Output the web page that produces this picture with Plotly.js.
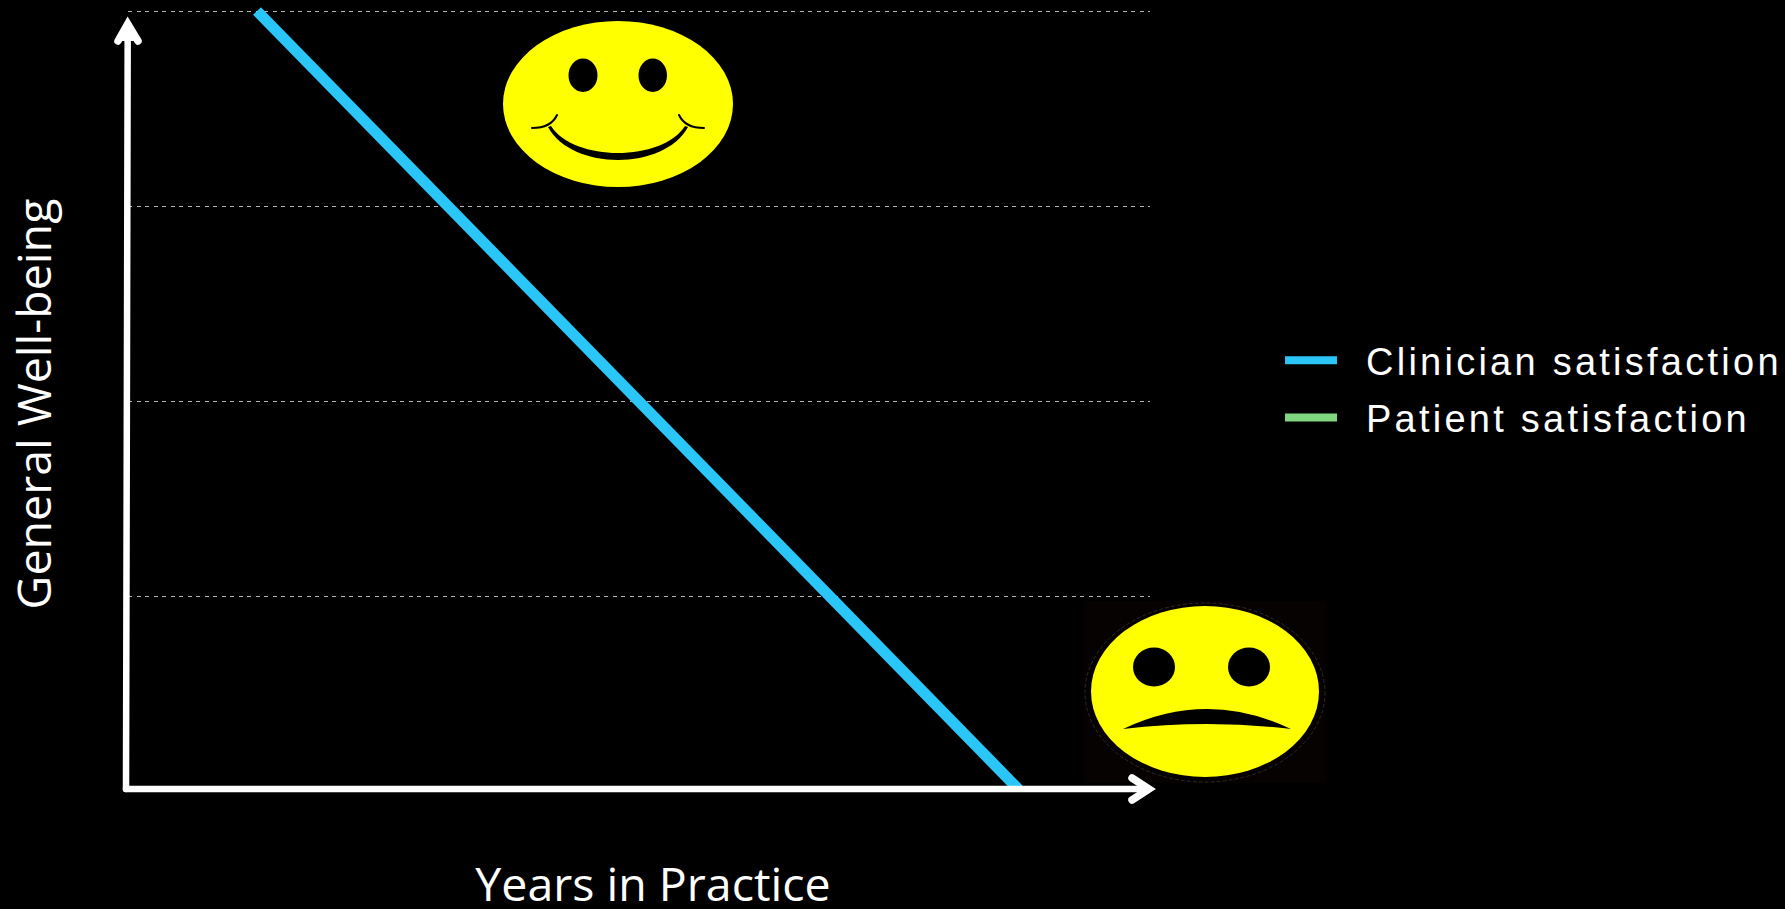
<!DOCTYPE html>
<html>
<head>
<meta charset="utf-8">
<script src="https://cdn.plot.ly/plotly-3.0.0.min.js"></script>
<style>
html,body{margin:0;padding:0;background:#000;overflow:hidden}
#chart{width:1785px;height:909px}
.legendtext{letter-spacing:3.25px;transform:translateX(24px)}
.legend .scrollbox{clip-path:none !important}
.legendlines path{stroke-width:8px !important}
.g-xtitle{transform:translateX(14px)}
.g-ytitle{transform:translateY(5px)}
.shapelayer path{stroke-linecap:round}
</style>
</head>
<body>
<div id="chart"></div>
<script>
// ---- values ----
const clinicianYears = [1.262, 8.73];
const clinicianWellbeing = [4, 0];
const patientYears = [null];
const patientWellbeing = [null];
const seriesNames = ['Clinician satisfaction', 'Patient satisfaction'];
const wellbeingTicks = [1, 2, 3, 4];
const xTitle = 'Years in Practice';
const yTitle = 'General Well-being';
const clinicianColor = '#29C6F7';
const patientColor = '#7FD87F';

// ---- page geometry ----
const W = 1785, H = 909;
const L = 128, R = 1150, T = 7, B = 791;
const yMax = (B - T) / 195;
const px = x => (x - L) / (R - L);
const py = y => (B - y) / (B - T);
const P = (x, y) => px(x).toFixed(5) + ',' + py(y).toFixed(5);

function ellipse(x0, x1, y0, y1, fill, line) {
  return {type:'circle', xref:'paper', yref:'paper', layer:'above',
    x0:px(x0), x1:px(x1), y0:py(y0), y1:py(y1), fillcolor:fill,
    line: line || {width:0}};
}
function path(d, opts) {
  return Object.assign({type:'path', xref:'paper', yref:'paper', layer:'above', path:d,
    line:{width:0}}, opts || {});
}

const white = {color:'#ffffff', width:6.5};
const head = {color:'#ffffff', width:7.5};
const none = 'rgba(0,0,0,0)';
const shapes = [
  // sad face backing picture
  {type:'rect', xref:'paper', yref:'paper', layer:'above', x0:px(1084), x1:px(1326), y0:py(783), y1:py(601),
   fillcolor:'#060202', line:{width:0}},
  ellipse(1085, 1325, 603, 782, none, {color:'#2a2a22', width:1, dash:'dot'}),
  ellipse(1091, 1319, 606, 777, '#FFFF00'),
  ellipse(1133, 1175, 647.5, 686.5, '#000000'),
  ellipse(1228, 1270, 647.5, 686.5, '#000000'),
  path(`M${P(1123,729)} Q${P(1207,689)} ${P(1291,729)} Q${P(1207,719)} ${P(1123,729)} Z`, {fillcolor:'#000000'}),
  // happy face
  ellipse(503, 733, 21, 187, '#FFFF00'),
  ellipse(568.5, 597.5, 58.5, 92, '#000000'),
  ellipse(638.5, 667, 58.5, 92, '#000000'),
  path(`M${P(548,127)} C${P(572,171)} ${P(664,171)} ${P(688,127)} L${P(685,126)} C${P(662,162)} ${P(574,162)} ${P(551,126)} Z`, {fillcolor:'#000000'}),
  path(`M${P(532,128)} Q${P(551,128)} ${P(557,115)}`, {line:{color:'#000000', width:2}, fillcolor:none}),
  path(`M${P(704,128)} Q${P(685,128)} ${P(679,115)}`, {line:{color:'#000000', width:2}, fillcolor:none}),
  // axis arrows
  path(`M${P(126,789)} L${P(127.7,28)}`, {line:white}),
  path(`M${P(118,41)} L${P(127.7,24)} L${P(138,41)}`, {line:head, fillcolor:'#ffffff'}),
  path(`M${P(126,789)} L${P(1146,789)}`, {line:white}),
  path(`M${P(1132,778)} L${P(1149,789)} L${P(1132,800)}`, {line:head, fillcolor:none})
];

const traces = [
  {x:clinicianYears, y:clinicianWellbeing, name:seriesNames[0], type:'scatter', mode:'lines',
   line:{color:clinicianColor, width:11}, cliponaxis:false, legendgroup:'a', hoverinfo:'skip'},
  {x:patientYears, y:patientWellbeing, name:seriesNames[1], type:'scatter', mode:'lines',
   line:{color:patientColor, width:11}, legendgroup:'b', showlegend:true, hoverinfo:'skip'}
];

const titleFont = {family:'"Open Sans", sans-serif', size:46.5, color:'#ffffff'};

const layout = {
  width:W, height:H,
  paper_bgcolor:'#000000', plot_bgcolor:'#000000',
  margin:{l:L, r:W-R, t:T, b:H-B, pad:0},
  showlegend:true,
  legend:{x:px(1280), xanchor:'left', y:py(389), yanchor:'middle', orientation:'v',
    itemwidth:52, traceorder:'grouped', tracegroupgap:5, bgcolor:none, borderwidth:0,
    font:{family:'"Liberation Sans", Arial, sans-serif', size:38, color:'#ffffff'}},
  xaxis:{range:[0,10], showgrid:false, zeroline:false, showline:false, showticklabels:false, ticks:'',
    title:{text:xTitle, font:titleFont, standoff:77}, automargin:false},
  yaxis:{range:[0,yMax], tickvals:wellbeingTicks, showgrid:true, gridcolor:'#b5b5b5', gridwidth:1,
    griddash:'4px,4.5px', zeroline:false, showline:false, showticklabels:false, ticks:'',
    title:{text:yTitle, font:titleFont, standoff:60}, automargin:false},
  shapes:shapes
};

Plotly.newPlot('chart', traces, layout, {displayModeBar:false, staticPlot:true});
</script>
</body>
</html>
